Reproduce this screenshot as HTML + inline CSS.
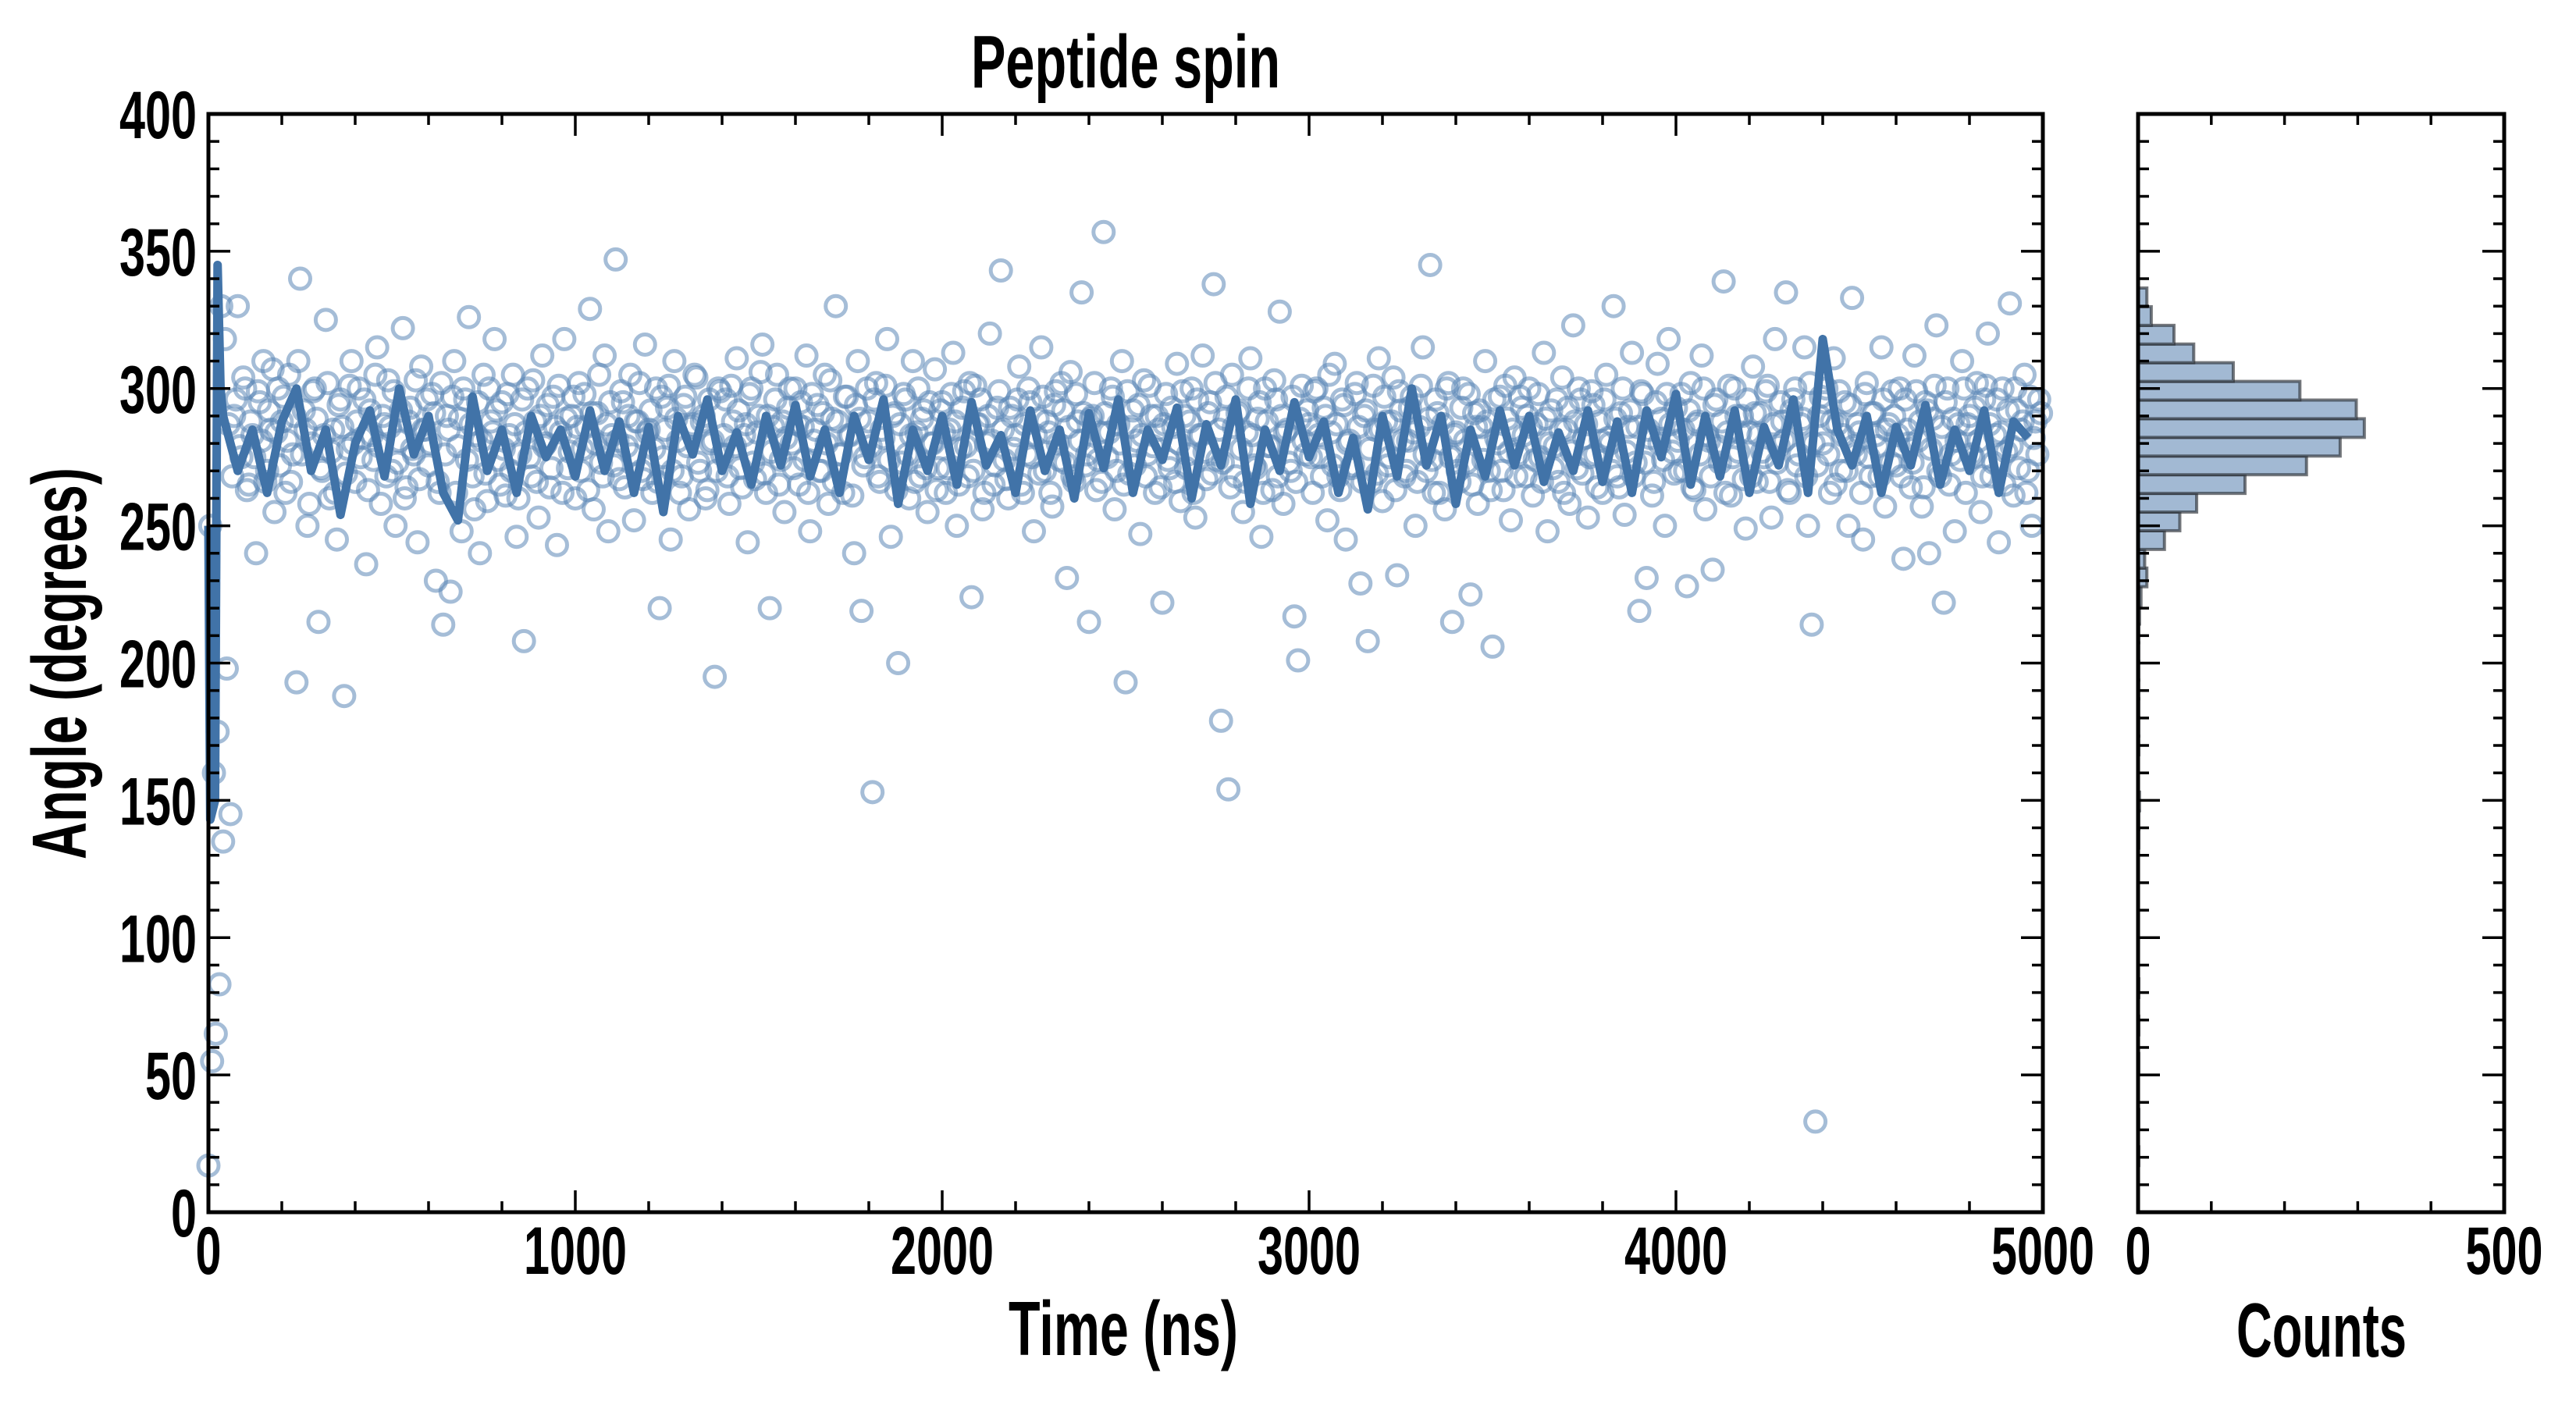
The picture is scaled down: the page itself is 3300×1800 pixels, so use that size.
<!DOCTYPE html>
<html><head><meta charset="utf-8"><style>
html,body{margin:0;padding:0;background:#fff;}
svg{display:block;}
text{font-family:"Liberation Sans Narrow","Liberation Sans",sans-serif;font-weight:bold;fill:#000;}
</style></head><body>
<svg id="chart" width="3300" height="1800" viewBox="0 0 3300 1800" xmlns="http://www.w3.org/2000/svg">
<g id="scatter"></g>
<g id="line"></g>
<g id="hist"></g>
<g id="axes"></g>
<text x="1442" y="112" font-size="96" text-anchor="middle" textLength="396" lengthAdjust="spacingAndGlyphs">Peptide spin</text>
<text x="1439" y="1736" font-size="98" text-anchor="middle" textLength="294" lengthAdjust="spacingAndGlyphs">Time (ns)</text>
<text x="2974" y="1738" font-size="98" text-anchor="middle" textLength="218" lengthAdjust="spacingAndGlyphs">Counts</text>
<text x="0" y="0" font-size="98" text-anchor="middle" textLength="502" lengthAdjust="spacingAndGlyphs" transform="translate(110,850) rotate(-90)">Angle (degrees)</text>
</svg>
<script>
const angles = [
17,55,65,83,135,198,145,290,330,275,300,265,283,240,295,310,270,285,255,300,
288,262,305,276,193,340,292,250,280,300,215,270,325,260,285,245,296,188,278,310,
266,300,282,236,292,274,315,258,287,303,270,250,281,322,264,293,276,244,308,285,
272,298,230,262,214,290,226,310,279,248,296,326,268,283,240,305,259,288,318,274,
295,261,283,305,246,276,208,300,268,288,253,312,280,264,297,243,284,318,271,290,
260,302,278,286,329,256,291,273,312,248,283,347,267,295,279,305,252,288,270,316,
285,262,300,220,275,293,245,310,281,268,297,256,287,304,270,290,263,280,195,300,
276,296,258,288,311,271,283,244,300,267,290,316,262,220,286,305,274,255,293,280,
300,265,286,312,248,281,294,270,305,258,289,330,276,262,297,283,240,310,219,275,
288,153,302,266,282,318,246,291,200,273,296,260,310,284,268,292,255,280,307,271,
295,262,285,313,250,278,299,268,224,301,287,256,280,320,265,293,343,274,260,290,
283,308,262,276,295,248,289,315,270,284,257,299,274,292,231,306,266,288,335,272,
215,290,263,284,357,275,300,256,287,310,193,269,292,281,247,303,276,290,262,285,
222,298,271,286,309,259,290,276,300,253,283,312,267,295,338,274,179,289,154,305,
268,292,255,284,311,272,289,246,300,279,263,296,328,258,285,270,217,201,301,276,
287,262,300,275,293,252,284,309,268,296,245,281,272,302,229,290,208,266,285,311,
259,288,275,304,232,292,268,281,297,250,286,315,270,345,262,291,280,256,302,215,
284,266,300,273,225,291,258,286,310,270,206,282,297,263,289,252,304,276,293,268,
300,261,287,275,313,248,292,279,266,304,285,258,323,271,296,282,253,299,276,288,
262,305,280,330,268,291,254,286,313,273,219,298,231,282,266,309,289,250,318,277,
293,270,285,228,302,263,288,312,256,281,234,296,273,339,284,261,300,277,290,249,
284,308,266,291,275,301,253,318,279,288,335,262,296,272,287,315,250,214,33,290,
280,300,262,311,287,270,295,250,333,276,284,245,302,268,291,279,315,257,287,299,
272,300,238,285,264,312,281,257,295,240,289,323,268,222,300,276,248,287,310,262,
290,275,302,255,296,320,268,283,244,300,277,331,261,292,285,305,270,250,288,296];
const anglesB = [
250,160,175,330,318,287,268,296,279,304,263,288,275,299,281,266,292,307,284,272,
297,281,266,290,310,276,285,258,299,289,271,283,302,277,262,294,286,269,301,280,
288,275,296,263,283,305,279,290,268,286,299,273,292,260,288,278,303,267,285,296,
280,291,266,302,276,285,297,262,289,300,274,287,256,295,281,269,300,284,292,265,
278,298,270,287,260,296,284,275,303,266,290,279,294,271,286,301,262,289,277,297,
286,270,298,263,291,280,305,268,287,295,272,281,299,264,290,276,288,302,267,284,
292,278,266,297,285,301,270,289,262,294,279,286,305,273,288,260,296,281,270,299,
283,268,301,279,292,264,287,298,273,284,306,269,290,277,296,265,288,282,300,271,
287,295,274,262,298,285,270,291,280,303,266,288,276,297,283,261,294,289,272,300,
279,296,268,285,301,274,290,263,287,298,276,283,266,300,289,271,295,280,263,292,
284,271,298,288,265,293,279,302,270,287,296,262,290,281,272,299,285,267,293,278,
296,265,287,300,275,283,269,297,288,262,294,280,302,273,286,268,298,281,291,276,
289,302,274,266,291,284,297,270,280,265,299,286,272,294,283,268,301,279,290,264,
287,274,293,266,280,299,271,288,262,296,283,277,291,269,302,285,273,297,264,286,
291,278,266,300,283,271,295,262,288,279,303,268,290,284,273,297,266,289,281,292,
275,299,283,268,290,305,272,287,263,294,280,271,298,286,266,292,278,301,269,285,
297,272,288,263,299,281,270,293,284,266,301,276,289,274,296,262,287,300,275,283,
270,293,281,298,265,286,292,274,288,263,296,280,270,301,277,285,268,297,283,290,
286,274,298,266,289,280,271,296,285,262,293,277,288,300,269,287,275,294,264,281,
296,282,270,289,264,300,277,292,268,286,299,273,285,261,295,280,274,298,287,269,
281,298,270,292,264,287,276,300,283,268,294,279,288,262,301,275,290,284,267,296,
268,291,283,277,299,266,287,273,295,281,263,292,300,276,289,268,302,280,272,297,
295,276,288,265,299,283,270,294,279,287,262,298,275,291,283,268,296,285,273,290,
283,268,296,280,273,299,288,264,292,278,301,270,286,295,265,289,281,274,300,287,
276,293,281,268,301,287,273,296,284,265,292,279,300,271,288,262,297,282,276,291];
const scatterStepNs = 10;
const scatterOffsetBNs = 5;
const spikeTimes = [0,5,18,25,33];
const spikeValues = [250,143,150,345,300];
const lineStartNs = 40;
const lineStepNs = 40;
const lineValues = [290,270,285,262,288,300,270,285,254,280,292,268,300,276,290,262,252,297,270,285,
262,290,275,285,268,292,270,288,262,286,255,290,276,296,270,284,265,290,272,294,
268,285,262,290,274,296,258,285,270,290,265,295,272,283,262,292,270,285,260,291,
271,296,262,285,274,293,260,287,272,296,258,285,270,295,275,288,262,282,256,290,
268,300,272,290,258,285,268,292,272,290,266,284,270,292,266,288,262,292,275,298,
265,290,268,292,262,286,272,296,262,318,285,272,290,262,286,272,294,265,285,270,
292,262,288,282];
const histStart = 17;
const histBinWidth = 6.8;
const histCounts = [1,0,1,0,0,1,0,1,0,1,0,0,0,0,0,0,0,1,1,2,0,0,1,1,1,1,1,1,1,2,4,12,9,36,57,80,146,230,276,309,298,221,130,76,49,18,12,0,0,1];
const yTickLabels = ["0","50","100","150","200","250","300","350","400"];
const xTickLabels = ["0","1000","2000","3000","4000","5000"];
const histTickLabels = ["0","500"];

const NS="http://www.w3.org/2000/svg";
const X0=267,X1=2617,YT=146,YB=1553,HX0=2739,HX1=3208;
const xs=t=>X0+(t/5000)*(X1-X0);
const ys=a=>YB-(a/400)*(YB-YT);
const hxs=c=>HX0+(c/500)*(HX1-HX0);
function mk(tag,attrs,parent){const e=document.createElementNS(NS,tag);for(const k in attrs)e.setAttribute(k,attrs[k]);parent.appendChild(e);return e;}

const sg=document.getElementById('scatter');
angles.forEach((a,i)=>{
  const c=mk('circle',{cx:xs(i*scatterStepNs),cy:ys(a),r:13,fill:'none',stroke:'#5b86b6','stroke-width':5,'stroke-opacity':0.55},sg);
  
  
});
anglesB.forEach((a,i)=>{
  const c=mk('circle',{cx:xs(i*scatterStepNs+scatterOffsetBNs),cy:ys(a),r:13,fill:'none',stroke:'#5b86b6','stroke-width':5,'stroke-opacity':0.55},sg);
  
  
});
const lg=document.getElementById('line');
let pts=spikeTimes.map((t,i)=>xs(t)+','+ys(spikeValues[i]));
lineValues.forEach((v,i)=>pts.push(xs(lineStartNs+i*lineStepNs)+','+ys(v)));
const pl=mk('polyline',{points:pts.join(' '),fill:'none',stroke:'#4173a8','stroke-width':11,'stroke-linejoin':'round'},lg);



const hg=document.getElementById('hist');
histCounts.forEach((c,k)=>{
  if(c<=0)return;
  const lo=histStart+k*histBinWidth, hi=lo+histBinWidth;
  const r=mk('rect',{x:HX0,y:ys(hi),width:hxs(c)-HX0,height:ys(lo)-ys(hi),fill:'#a2b9d3',stroke:'#2b2f36','stroke-opacity':0.65,'stroke-width':4},hg);
  
  
});

const ag=document.getElementById('axes');
function frame(x0,x1,name){
  const r=mk('rect',{x:x0,y:YT,width:x1-x0,height:YB-YT,fill:'none',stroke:'#000','stroke-width':5},ag);
  
  
  for(let v=0;v<=400;v+=10){
    const L=(v%50===0)?28:14,y=ys(v);
    mk('line',{x1:x0,x2:x0+L,y1:y,y2:y,stroke:'#000','stroke-width':3.5},ag);
    mk('line',{x1:x1,x2:x1-L,y1:y,y2:y,stroke:'#000','stroke-width':3.5},ag);
  }
}
frame(X0,X1,'main-axes-frame');
frame(HX0,HX1,'histogram-axes-frame');
for(let t=0;t<=5000;t+=200){
  const L=(t%1000===0)?28:14,x=xs(t);
  mk('line',{x1:x,x2:x,y1:YB,y2:YB-L,stroke:'#000','stroke-width':3.5},ag);
  mk('line',{x1:x,x2:x,y1:YT,y2:YT+L,stroke:'#000','stroke-width':3.5},ag);
}
for(let c=0;c<=500;c+=100){
  const L=(c%500===0)?28:14,x=hxs(c);
  mk('line',{x1:x,x2:x,y1:YB,y2:YB-L,stroke:'#000','stroke-width':3.5},ag);
  mk('line',{x1:x,x2:x,y1:YT,y2:YT+L,stroke:'#000','stroke-width':3.5},ag);
}
function label(txt,x,y,anchor,name){
  const t=mk('text',{x:x,y:y,'font-size':86,'text-anchor':anchor,textLength:txt.length*33,lengthAdjust:'spacingAndGlyphs'},ag);
  t.textContent=txt;
  
  
}
yTickLabels.forEach(s=>label(s,252,ys(+s)+31,'end','y-tick-label'));
xTickLabels.forEach(s=>label(s,xs(+s),1632,'middle','x-tick-label'));
histTickLabels.forEach(s=>label(s,hxs(+s),1632,'middle','hist-x-tick-label'));
</script>
</body></html>
